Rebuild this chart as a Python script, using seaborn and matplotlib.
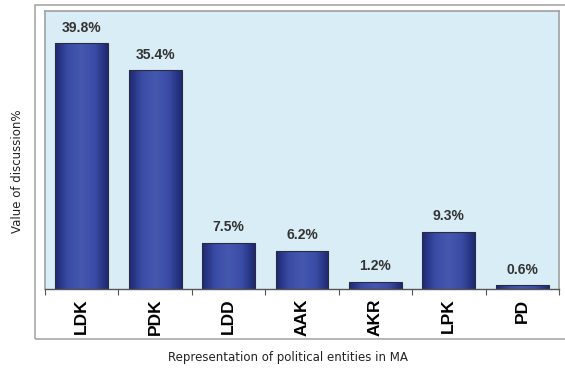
import matplotlib
matplotlib.use("Agg")
import matplotlib.pyplot as plt
import seaborn as sns
import numpy as np
import pandas as pd
from matplotlib.patches import Rectangle
from matplotlib.colors import LinearSegmentedColormap

categories = ["LDK", "PDK", "LDD", "AAK", "AKR", "LPK", "PD"]
values = [39.8, 35.4, 7.5, 6.2, 1.2, 9.3, 0.6]
value_labels = ["39.8%", "35.4%", "7.5%", "6.2%", "1.2%", "9.3%", "0.6%"]

df = pd.DataFrame({"party": categories, "value": values})

sns.set_theme(style="white")
plt.rcParams['font.family'] = ['Liberation Sans', 'DejaVu Sans']

fig = plt.figure(figsize=(5.65, 3.68), dpi=100)
ax = fig.add_axes([45/565, 1-289/368, (559-45)/565, (289-10.8)/368])

# outer frame
fig.patches.append(Rectangle((35/565, 1-339/368), 1.0, (339-5)/368,
                             transform=fig.transFigure, fill=False,
                             edgecolor="#a8a8a8", lw=1.2, zorder=0))

sns.barplot(data=df, x="party", y="value", ax=ax, color="#2c3a92",
            width=0.72, edgecolor="#2a2a40", linewidth=0.8, saturation=1)

ax.set_facecolor("#d9edf7")

# gradient fill clipped to each bar
cmap = LinearSegmentedColormap.from_list("bar", ["#1d2870", "#3a4ca6", "#4558b0", "#3a4ca6", "#1d2870"])
grad = np.linspace(0, 1, 256).reshape(1, -1)
for p in ax.patches:
    x0, y0 = p.get_x(), p.get_y()
    w, h = p.get_width(), p.get_height()
    im = ax.imshow(grad, cmap=cmap, aspect="auto", extent=[x0, x0 + w, y0, y0 + h],
                   zorder=p.get_zorder() + 0.1, interpolation="bicubic")
    im.set_clip_path(p)
    p.set_zorder(p.get_zorder() + 0.2)
    p.set_facecolor("none")
ax.set_xlim(-0.5, len(categories) - 0.5)
ax.set_ylim(0, 45)
ax.set_aspect("auto")

for i, (v, lab) in enumerate(zip(values, value_labels)):
    ax.annotate(lab, (i, v), xytext=(0, 6), textcoords="offset points",
                ha="center", va="bottom", fontsize=10, fontweight="bold", color="#333333")

for s in ["top", "right", "left"]:
    ax.spines[s].set_color("#a0a0a0")
    ax.spines[s].set_linewidth(1.2)
ax.spines["bottom"].set_color("#555555")
ax.spines["bottom"].set_linewidth(1.0)

ax.set_yticks([])
ax.set_xticks(np.arange(-0.5, len(categories), 1.0), minor=False)
ax.set_xticklabels([])
ax.set_xticks(np.arange(len(categories)), minor=True)
ax.set_xticklabels(categories, minor=True, rotation=90, fontsize=12.5, fontweight="bold", color="black")
ax.tick_params(axis="x", which="major", direction="out", length=4, width=0.8, color="#555555", bottom=True)
ax.tick_params(axis="x", which="minor", length=0, pad=7)
ax.set_xlabel("")
ax.set_ylabel("")

fig.text(18/565, 1-171/368, "Value of discussion%", rotation=90, ha="center", va="center",
         fontsize=8.5, family=["DejaVu Sans"], color="#222222")
fig.text(288/565, 1-358/368, "Representation of political entities in MA", ha="center", va="center",
         fontsize=8.5, family=["DejaVu Sans"], color="#222222")

fig.savefig("out.png", dpi=100, facecolor="white")
